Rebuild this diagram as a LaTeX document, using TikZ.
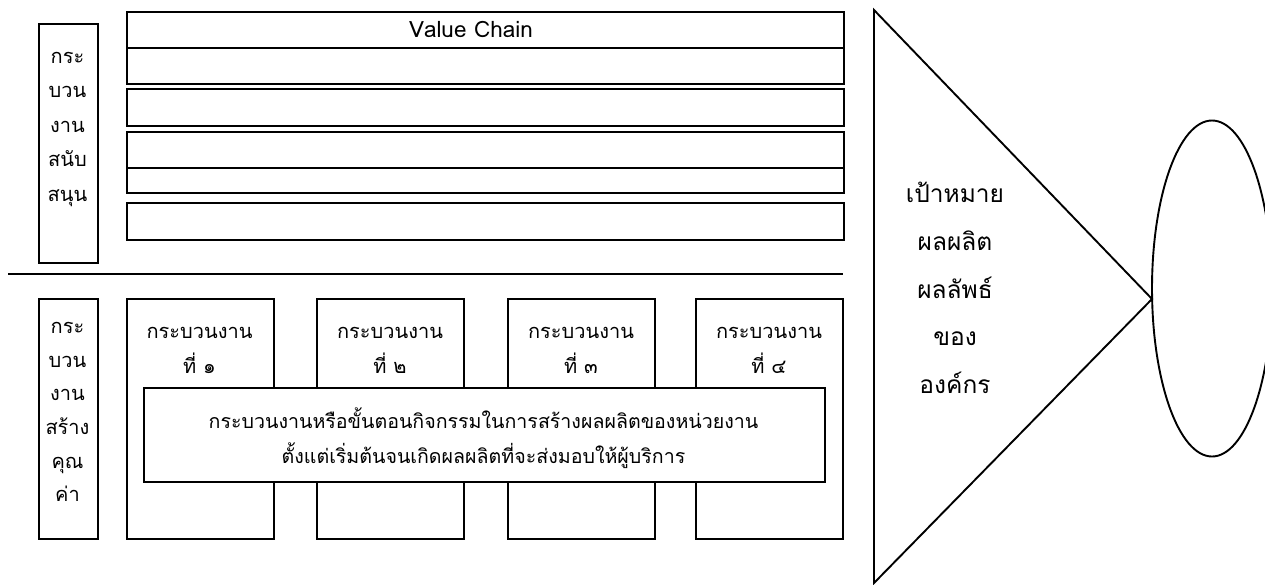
\documentclass[tikz,border=0pt]{standalone}
\usepackage{fontspec}
\newfontfamily\thai[Script=Thai]{Loma}
\begin{document}
\begin{tikzpicture}[x=1pt,y=-1pt,
  box/.style={draw, line width=1.9pt, fill=white, inner sep=0pt, anchor=north west},
  txt/.style={font=\thai\fontsize{20}{34.5}\selectfont, align=center, inner sep=0pt},
  tritxt/.style={font=\thai\fontsize{24.5}{47.6}\selectfont, align=center, inner sep=0pt},
  ln/.style={line width=1.9pt}]
\clip (0,0) rectangle (1265,584);
\fill[white] (0,0) rectangle (1265,584);
% support processes
\node[box, minimum width=59pt, minimum height=239pt] (sup) at (38,23) {};
\node[txt] (suptxt) at (67.5,129) {กระ\\บวน\\งาน\\สนับ\\สนุน};
\node[box, minimum width=717pt, minimum height=36pt] (vc1) at (126,11) {};
\node[txt, font=\thai\fontsize{22.5}{24}\selectfont] (vctxt) at (471,29) {Value Chain};
\node[box, minimum width=717pt, minimum height=36pt] (vc2) at (126,47) {};
\node[box, minimum width=717pt, minimum height=37pt] (vc3) at (126,88) {};
\node[box, minimum width=717pt, minimum height=36pt] (vc4) at (126,131) {};
\node[box, minimum width=717pt, minimum height=25pt] (vc5) at (126,167) {};
\node[box, minimum width=717pt, minimum height=37pt] (vc6) at (126,202) {};
% separator
\coordinate (sepL) at (8,274);
\coordinate (sepR) at (843,274);
\draw[ln] (sepL) -- (sepR);
% value-creating processes
\node[box, minimum width=59pt, minimum height=240pt] (core) at (38,298) {};
\node[txt, font=\thai\fontsize{20}{33.6}\selectfont] (coretxt) at (67.5,412) {กระ\\บวน\\งาน\\สร้าง\\คุณ\\ค่า};
\node[box, minimum width=147pt, minimum height=240pt] (p1) at (126,298) {};
\node[box, minimum width=147pt, minimum height=240pt] (p2) at (316,298) {};
\node[box, minimum width=147pt, minimum height=240pt] (p3) at (507,298) {};
\node[box, minimum width=147pt, minimum height=240pt] (p4) at (695,298) {};
\node[txt, font=\thai\fontsize{20}{35}\selectfont] (p1t) at (199.5,350) {กระบวนงาน\\ที่ ๑};
\node[txt, font=\thai\fontsize{20}{35}\selectfont] (p2t) at (390,350) {กระบวนงาน\\ที่ ๒};
\node[txt, font=\thai\fontsize{20}{35}\selectfont] (p3t) at (581,350) {กระบวนงาน\\ที่ ๓};
\node[txt, font=\thai\fontsize{20}{35}\selectfont] (p4t) at (769,350) {กระบวนงาน\\ที่ ๔};
\node[box, minimum width=681pt, minimum height=94pt] (desc) at (143,387) {};
\node[txt, font=\thai\fontsize{19.6}{35}\selectfont] (desct) at (483.5,438) {กระบวนงานหรือขั้นตอนกิจกรรมในการสร้างผลผลิตของหน่วยงาน\\ตั้งแต่เริ่มต้นจนเกิดผลผลิตที่จะส่งมอบให้ผู้บริการ};
% goal triangle
\coordinate (tA) at (874,10);
\coordinate (tB) at (1152,299);
\coordinate (tC) at (874,583);
\draw[ln, line join=miter] (tA) -- (tB) -- (tC) -- cycle;
\node[tritxt] (goal) at (955,288) {เป้าหมาย\\ผลผลิต\\ผลลัพธ์\\ของ\\องค์กร};
% ellipse
\draw[ln] (1212,288.5) ellipse [x radius=60, y radius=168];
\end{tikzpicture}
\end{document}
